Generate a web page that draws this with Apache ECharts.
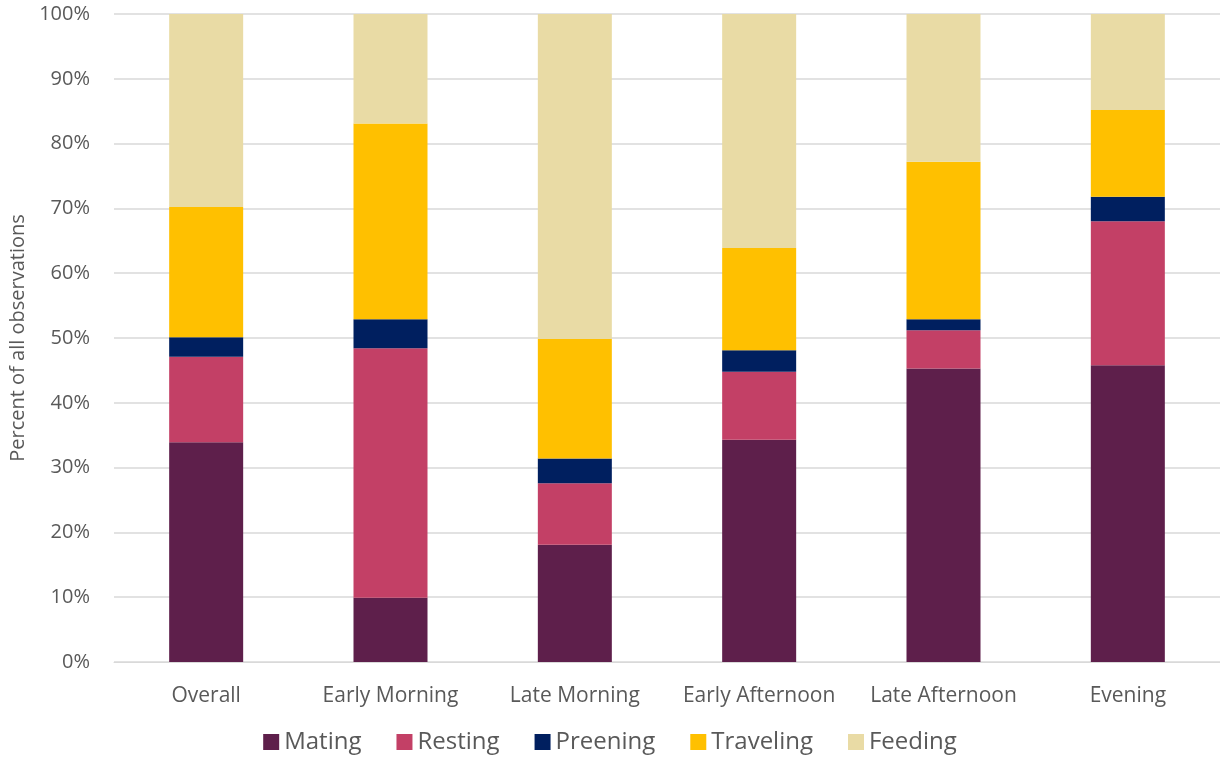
<!DOCTYPE html>
<html>
<head>
<meta charset="utf-8">
<script src="https://cdn.jsdelivr.net/npm/echarts@6/dist/echarts.min.js"></script>
<style>
  html, body { margin: 0; padding: 0; background: #ffffff; }
  #chart { width: 1220px; height: 759px; }
</style>
</head>
<body>
<div id="chart"></div>
<script>
// Time-of-day periods
const categories = ['Overall', 'Early Morning', 'Late Morning', 'Early Afternoon', 'Late Afternoon', 'Evening'];

// Share of observations (%) per behaviour
const mating    = [33.9,  9.9, 18.1, 34.3, 45.3, 45.8];
const resting   = [13.2, 38.5,  9.5, 10.5,  5.9, 22.2];
const preening  = [ 3.0,  4.5,  3.8,  3.3,  1.7,  3.8];
const traveling = [20.1, 30.2, 18.5, 15.8, 24.3, 13.4];
const feeding   = [29.8, 16.9, 50.1, 36.1, 22.8, 14.8];

const yTicks = [0, 10, 20, 30, 40, 50, 60, 70, 80, 90, 100];

const FONT = '"Open Sans", "Liberation Sans", sans-serif';
const TEXT = '#595959';

const behaviours = [
  { name: 'Mating',    data: mating,    color: '#5E1F4B' },
  { name: 'Resting',   data: resting,   color: '#C34066' },
  { name: 'Preening',  data: preening,  color: '#001F5F' },
  { name: 'Traveling', data: traveling, color: '#FFC000' },
  { name: 'Feeding',   data: feeding,   color: '#E9DBA5' }
];

const chart = echarts.init(document.getElementById('chart'), null, { renderer: 'canvas' });

chart.setOption({
  animation: false,
  backgroundColor: '#ffffff',
  grid: { left: 114, right: 0, top: 14, bottom: 97, containLabel: false, outerBoundsMode: 'none' },
  legend: {
    bottom: 0,
    left: 'center',
    itemWidth: 16,
    itemHeight: 16,
    itemGap: 35,
    icon: 'rect',
    textStyle: { fontFamily: FONT, fontSize: 24, color: TEXT },
    data: behaviours.map(b => b.name)
  },
  xAxis: {
    type: 'category',
    data: categories,
    axisLine: { show: true, lineStyle: { color: '#d9d9d9', width: 1 } },
    axisTick: { show: false },
    axisLabel: { fontFamily: FONT, fontSize: 21, color: TEXT, margin: 24, interval: 0 }
  },
  yAxis: {
    type: 'value',
    min: 0,
    max: 100,
    interval: 10,
    name: 'Percent of all observations',
    nameLocation: 'middle',
    nameGap: 86,
    nameTextStyle: { fontFamily: FONT, fontSize: 20, color: TEXT },
    axisLine: { show: false },
    axisTick: { show: false },
    axisLabel: {
      fontFamily: FONT, fontSize: 20, color: TEXT, margin: 24,
      formatter: v => (yTicks.includes(v) ? v + '%' : '')
    },
    splitLine: { lineStyle: { color: '#d9d9d9', width: 1.5 } }
  },
  series: behaviours.map(b => ({
    name: b.name,
    type: 'bar',
    stack: 'total',
    data: b.data,
    barWidth: 74,
    itemStyle: { color: b.color },
    emphasis: { disabled: true }
  }))
});
</script>
</body>
</html>
